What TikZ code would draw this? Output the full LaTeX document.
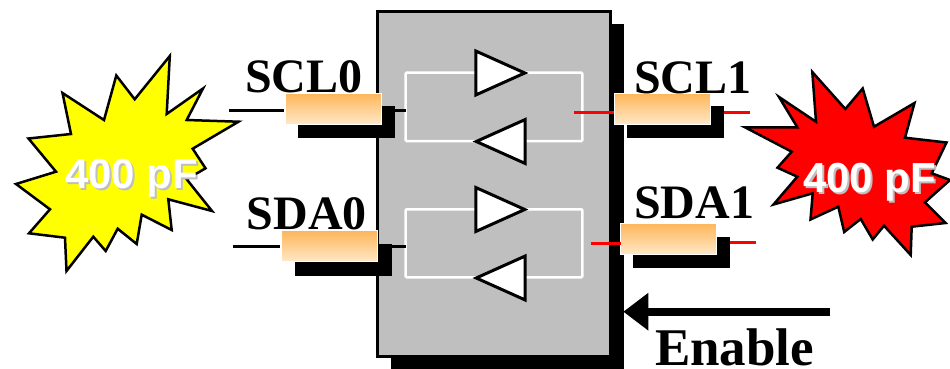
\documentclass[tikz,border=0pt]{standalone}
\usepackage{fontspec}
\setmainfont{Liberation Serif}
\newfontfamily\burstfont{Liberation Sans}
\usepackage{tikz}
\usetikzlibrary{arrows.meta,shapes.geometric}
\definecolor{blockgray}{RGB}{191,191,191}
\definecolor{restop}{RGB}{254,182,90}
\definecolor{resbot}{RGB}{255,232,200}
\definecolor{burstyellow}{RGB}{255,255,0}
\definecolor{burstred}{RGB}{255,0,0}
\newcommand{\burstlabel}{{\rlap{\kern2pt\raisebox{-2pt}{\textcolor{black!25}{400 pF}}}\textcolor{white}{400 pF}}}

\begin{document}
\begin{tikzpicture}[
		x=1pt, y=-1pt,
		every node/.style={inner sep=0pt, outer sep=0pt},
		block/.style={rectangle, draw=black, fill=blockgray, line width=2.5pt, minimum width=233pt, minimum height=345pt},
		hardshadow/.style={rectangle, fill=black},
		loopbox/.style={rectangle, draw=white, line width=2.5pt, rounded corners=1pt, minimum width=176.6pt},
		resistor/.style={rectangle, draw=white, line width=1pt, top color=restop, bottom color=resbot, minimum width=96pt, minimum height=31pt},
		buffer/.style={isosceles triangle, isosceles triangle stretches, draw=black, fill=white, line width=3pt, minimum width=44pt, minimum height=49pt},
		pinlabel/.style={anchor=base west, font=\bfseries\fontsize{48}{50}\selectfont},
		burstlabel/.style={anchor=base west, font=\burstfont\bfseries\fontsize{42}{44}\selectfont},
		blackwire/.style={draw=black, line width=3pt},
		redwire/.style={draw=burstred, line width=3pt},
		burst/.style={draw=black, line width=2.5pt, miter limit=20}
	]
  \useasboundingbox (0, 0) rectangle (950, 369);
  % block
  \node (block_s) [hardshadow, minimum width=233pt, minimum height=345pt] at (507.5, 196.5) {};
  \node (block) [block] at (494, 184) {};
  \node (loop_a) [loopbox, minimum height=68.4pt] at (494, 106.8) {};
  \node (loop_b) [loopbox, minimum height=68pt] at (494, 243.3) {};
  \node (buf_a) [buffer] at (490, 73) {};
  \node (buf_b) [buffer, shape border rotate=180] at (511, 141.5) {};
  \node (buf_c) [buffer] at (490, 209.5) {};
  \node (buf_d) [buffer, shape border rotate=180] at (511, 278) {};
  % left burst
  \filldraw [burst, fill=burstyellow] (169.8,56) -- (166.7,114) -- (203,88.5) -- (186.7,120) -- (238.5,121.7) -- (192.7,148.7) -- (205.5,168.3) -- (186.7,179.3) -- (212,211) -- (168.3,199.3) -- (171.7,230) -- (141.7,214.7) -- (136.7,244) -- (117.7,228.7) -- (105.7,251) -- (93.3,236.7) -- (66.5,271) -- (65,237.7) -- (29,233.3) -- (50,209.3) -- (16,184) -- (56,171.7) -- (28.5,138.5) -- (71,134) -- (62.5,93) -- (104,120) -- (116.3,75.5) -- (134.7,99.3) -- cycle;
  % right burst
  \filldraw [burst, fill=burstred] (812.3,72) -- (845.3,109) -- (862.7,88.5) -- (874,126.7) -- (914.5,103) -- (905,137.7) -- (946.5,142.5) -- (931.7,173.3) -- (950,180) -- (925,202.3) -- (945.5,223) -- (911.7,226.7) -- (910.7,255) -- (884,225.7) -- (872.7,239.5) -- (860.7,219) -- (844.2,232) -- (838.3,206.7) -- (810.5,219.5) -- (812.7,193.3) -- (773.5,204.5) -- (797.3,176.7) -- (777.5,167.7) -- (791.7,151.7) -- (745,127.3) -- (797.3,127.3) -- (779,97) -- (816,121.7) -- cycle;
  \node (burst_l) [burstlabel] at (65, 188) {\burstlabel};
  \node (burst_r) [burstlabel] at (803, 192) {\burstlabel};
  % pins
  \node (scl0_s) [hardshadow, minimum width=97pt, minimum height=32pt] at (346.5, 122) {};
  \node (sda0_s) [hardshadow, minimum width=97pt, minimum height=32pt] at (343.5, 260) {};
  \node (scl1_s) [hardshadow, minimum width=97pt, minimum height=32pt] at (675.5, 122) {};
  \node (sda1_s) [hardshadow, minimum width=97pt, minimum height=31pt] at (681.5, 252.5) {};
  \coordinate (scl0_in) at (229, 110.7);
  \coordinate (sda0_in) at (232.7, 246.7);
  \coordinate (scl0_tap) at (405.7, 110);
  \coordinate (sda0_tap) at (405.7, 246.7);
  \coordinate (scl1_tap) at (574, 112.7);
  \coordinate (sda1_tap) at (591, 243.7);
  \coordinate (scl1_out) at (750, 112.7);
  \coordinate (sda1_out) at (756, 242);
  \draw [blackwire] (scl0_tap) -- (scl0_tap -| scl0_s.east);
  \draw [blackwire] (sda0_tap) -- (sda0_tap -| sda0_s.east);
  \draw [redwire] (scl1_out) -- (scl1_out -| scl1_s.east);
  \draw [redwire] (sda1_out) -- (sda1_out -| sda1_s.east);
  \node (scl0_r) [resistor] at (333.5, 108.7) {};
  \node (sda0_r) [resistor] at (329.5, 246.2) {};
  \node (scl1_r) [resistor] at (662, 108.7) {};
  \node (sda1_r) [resistor] at (668.5, 239) {};
  \draw [blackwire] (scl0_in) -- ++(55, 0);
  \draw [blackwire] (sda0_in) -- ++(47.5, 0);
  \draw [redwire] (scl1_tap) -- (scl1_tap -| scl1_r.west);
  \draw [redwire] (sda1_tap) -- (sda1_tap -| sda1_r.west);
  \node (scl0) [pinlabel] at (245, 92.7) {SCL0};
  \node (sda0) [pinlabel] at (246.7, 229) {SDA0};
  \node (scl1) [pinlabel] at (634, 93) {SCL1};
  \node (sda1) [pinlabel] at (634, 218) {SDA1};
  % enable
  \coordinate (en_in) at (830, 311.7);
  \coordinate (en_tip) at (623.3, 311.7);
  \draw [line width=8pt, -{Triangle[length=25pt, width=36pt]}] (en_in) -- (en_tip);
  \node (enable) [pinlabel, font=\bfseries\fontsize{53}{54}\selectfont] at (655, 365) {Enable};
\end{tikzpicture}
\end{document}
